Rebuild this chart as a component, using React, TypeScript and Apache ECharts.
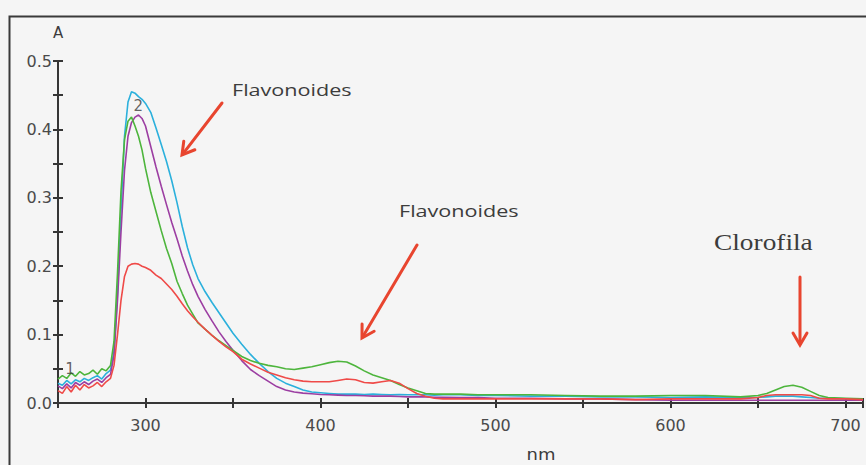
import React, { useEffect, useRef } from "react";
import * as echarts from "echarts";

// Wavelength grid (nm), denser where the spectra change quickly
const wavelengths = [
  250, 252.5, 255, 257.5, 260, 262.5, 265, 267.5, 270, 272.5, 275, 277.5, 280,
  282, 284, 286, 288, 290, 292, 294, 296, 298, 300,
  303, 306, 309, 312, 315, 318, 321, 324, 327, 330,
  334, 338, 342, 346, 350,
  355, 360, 365, 370, 375, 380, 385, 390, 395, 400, 405, 410,
  415, 420, 425, 430, 435, 440, 445, 450, 455, 460, 465, 470,
  480, 490, 500,
  520, 540, 560, 580, 600, 620, 640,
  650, 655, 660, 665, 670, 675, 680, 685, 690,
  700, 710,
];

// Absorbance of each extract
const cyanSpectrum = [
  0.029, 0.026, 0.033, 0.028, 0.034, 0.031, 0.036, 0.033, 0.037, 0.04, 0.035, 0.043, 0.048,
  0.075, 0.16, 0.28, 0.39, 0.44, 0.455, 0.453, 0.448, 0.444, 0.438,
  0.425, 0.402, 0.378, 0.353, 0.325, 0.293, 0.258, 0.227, 0.202, 0.182,
  0.163, 0.147, 0.132, 0.117, 0.102,
  0.086, 0.071, 0.058, 0.046, 0.036, 0.029, 0.024, 0.019, 0.016, 0.015, 0.014, 0.013,
  0.013, 0.013, 0.0125, 0.013, 0.0125, 0.012, 0.0125, 0.012, 0.012, 0.012, 0.0115, 0.012,
  0.012, 0.011, 0.011,
  0.01, 0.01, 0.009, 0.009, 0.008, 0.009, 0.008,
  0.008, 0.009, 0.01, 0.01, 0.01, 0.009, 0.008, 0.007, 0.007,
  0.006, 0.006,
];

const purpleSpectrum = [
  0.025, 0.021, 0.028, 0.022, 0.03, 0.026, 0.031, 0.027, 0.032, 0.035, 0.03, 0.037, 0.042,
  0.07, 0.15, 0.25, 0.34, 0.39, 0.41, 0.418, 0.421, 0.416, 0.405,
  0.375, 0.345, 0.317, 0.29, 0.264, 0.24, 0.215, 0.193, 0.173, 0.156,
  0.137, 0.12, 0.104, 0.09, 0.077,
  0.062, 0.049, 0.04, 0.032, 0.024, 0.019, 0.016, 0.0145, 0.0135, 0.0125, 0.012, 0.0115,
  0.011, 0.011, 0.0105, 0.01, 0.01, 0.01, 0.0095, 0.009, 0.009, 0.009, 0.0085, 0.0085,
  0.008, 0.008, 0.007,
  0.007, 0.006, 0.006, 0.005, 0.004, 0.004, 0.004,
  0.004, 0.004, 0.004, 0.004, 0.004, 0.004, 0.004, 0.004, 0.004,
  0.004, 0.004,
];

const greenSpectrum = [
  0.035, 0.04, 0.036, 0.044, 0.039, 0.046, 0.041, 0.043, 0.048, 0.042, 0.05, 0.047, 0.055,
  0.09, 0.19, 0.31, 0.385, 0.412, 0.418, 0.405, 0.39, 0.37, 0.343,
  0.308, 0.28, 0.252, 0.226, 0.204, 0.178, 0.16, 0.143, 0.13, 0.117,
  0.108, 0.099, 0.091, 0.084, 0.077,
  0.068, 0.062, 0.058, 0.055, 0.053, 0.05, 0.049, 0.051, 0.053, 0.056, 0.059, 0.061,
  0.06, 0.054, 0.047, 0.041, 0.037, 0.033, 0.027, 0.022, 0.018, 0.014, 0.013, 0.013,
  0.013, 0.012, 0.012,
  0.012, 0.011, 0.01, 0.01, 0.011, 0.011, 0.009,
  0.011, 0.014, 0.019, 0.024, 0.026, 0.023, 0.017, 0.011, 0.008,
  0.007, 0.006,
];

const redSpectrum = [
  0.018, 0.014, 0.024, 0.016, 0.026, 0.019, 0.027, 0.022, 0.025, 0.03, 0.024, 0.031, 0.036,
  0.055, 0.1, 0.15, 0.185, 0.2, 0.203, 0.204, 0.203, 0.2, 0.198,
  0.194, 0.187, 0.182, 0.174, 0.166, 0.156, 0.145, 0.135, 0.126, 0.118,
  0.108, 0.099, 0.09, 0.082, 0.075,
  0.064, 0.057, 0.051, 0.045, 0.041, 0.037, 0.034, 0.032, 0.031, 0.031, 0.031, 0.033,
  0.035, 0.034, 0.03, 0.029, 0.031, 0.033, 0.029, 0.021, 0.014, 0.01, 0.007, 0.006,
  0.006, 0.006, 0.006,
  0.006, 0.006, 0.006, 0.005, 0.006, 0.006, 0.006,
  0.008, 0.011, 0.012, 0.012, 0.012, 0.012, 0.011, 0.007, 0.006,
  0.006, 0.005,
];

// Curve numbers written next to the traces: [nm, A, tag]
const curveTags: [number, number, string][] = [
  [295.8, 0.434, "2"],
  [256.8, 0.049, "1"],
];

const spectra = [
  { name: "3", color: "#2bb0dc", values: cyanSpectrum },
  { name: "2", color: "#9c3ea2", values: purpleSpectrum },
  { name: "4", color: "#4db53c", values: greenSpectrum },
  { name: "1", color: "#ef4a48", values: redSpectrum },
];

const AXIS = "#363636";
const ARROW = "#e8452f";
const SANS = "DejaVu Sans";

function arrow(x1: number, y1: number, x2: number, y2: number) {
  const dx = x2 - x1;
  const dy = y2 - y1;
  const len = Math.hypot(dx, dy);
  const ux = dx / len;
  const uy = dy / len;
  const head = 12;
  const half = 7;
  const bx = x2 - ux * head;
  const by = y2 - uy * head;
  const nx = -uy;
  const ny = ux;
  return [
    {
      type: "line",
      shape: { x1, y1, x2: x2 - ux * 1.5, y2: y2 - uy * 1.5 },
      style: { stroke: ARROW, lineWidth: 3, lineCap: "round" },
    },
    {
      type: "polyline",
      shape: {
        points: [
          [bx + nx * half, by + ny * half],
          [x2, y2],
          [bx - nx * half, by - ny * half],
        ],
      },
      style: { stroke: ARROW, lineWidth: 3, fill: "none", lineJoin: "miter", lineCap: "round" },
    },
  ];
}

function label(text: string, x: number, y: number, font: string, scaleX: number, align = "left") {
  return {
    type: "text",
    x,
    y,
    scaleX,
    style: {
      text,
      x: 0,
      y: 0,
      font,
      fill: "#3c3c3c",
      textAlign: align,
      align,
      textVerticalAlign: "middle",
      verticalAlign: "middle",
    },
  };
}

export default function App() {
  const ref = useRef<HTMLDivElement>(null);

  useEffect(() => {
    if (!ref.current) return;
    const chart = echarts.init(ref.current, null, { renderer: "svg" });

    const xLabel = (v: number) => (Math.round(v) % 100 === 0 ? String(Math.round(v)) : "");
    const yLabel = (v: number) => {
      const r = Math.round(v * 100);
      return r % 10 === 0 ? (r / 100).toFixed(1) : "";
    };

    const tickStyle = { color: AXIS, width: 2 };

    const option = {
      animation: false,
      backgroundColor: "#f5f5f5",
      grid: { left: 58, right: 0, top: 61, bottom: 62 },
      xAxis: [
        {
          type: "value",
          min: 250,
          max: 710,
          interval: 50,
          position: "bottom",
          axisLine: { show: true, onZero: false, lineStyle: { color: AXIS, width: 2 } },
          axisTick: { show: true, length: 5, lineStyle: tickStyle },
          axisLabel: { formatter: xLabel, color: "#4a4a4a", fontSize: 16, fontFamily: SANS, margin: 14 },
          splitLine: { show: false },
        },
        {
          type: "value",
          min: 250,
          max: 710,
          interval: 50,
          position: "bottom",
          axisLine: { show: false, onZero: false },
          axisTick: { show: true, inside: true, length: 5, lineStyle: tickStyle },
          axisLabel: { show: false },
          splitLine: { show: false },
        },
      ],
      yAxis: [
        {
          type: "value",
          min: 0,
          max: 0.5,
          interval: 0.05,
          position: "left",
          axisLine: { show: true, onZero: false, lineStyle: { color: AXIS, width: 2 } },
          axisTick: { show: true, length: 5, lineStyle: tickStyle },
          axisLabel: { formatter: yLabel, color: "#4a4a4a", fontSize: 16, fontFamily: SANS, margin: 6 },
          splitLine: { show: false },
        },
        {
          type: "value",
          min: 0,
          max: 0.5,
          interval: 0.05,
          position: "left",
          axisLine: { show: false, onZero: false },
          axisTick: { show: true, inside: true, length: 5, lineStyle: tickStyle },
          axisLabel: { show: false },
          splitLine: { show: false },
        },
      ],
      series: [
        ...spectra.map((s) => ({
          type: "line",
          name: s.name,
          xAxisIndex: 0,
          yAxisIndex: 0,
          showSymbol: false,
          symbol: "none",
          smooth: false,
          lineStyle: { color: s.color, width: 1.6 },
          data: wavelengths.map((w, i) => [w, s.values[i]]),
        })),
        {
          type: "scatter",
          name: "tags",
          xAxisIndex: 0,
          yAxisIndex: 0,
          symbolSize: 1,
          itemStyle: { color: "rgba(0,0,0,0)" },
          z: 5,
          label: {
            show: true,
            position: "inside",
            formatter: (p: any) => p.value[2],
            color: "#3c3c3c",
            fontSize: 15,
            fontFamily: SANS,
          },
          data: curveTags,
        },
      ],
      graphic: [
        {
          type: "rect",
          shape: { x: 9.5, y: 16.5, width: 1000, height: 600 },
          style: { stroke: "#3a3a3a", lineWidth: 2, fill: "none" },
          silent: true,
        },
        label("A", 58, 33, `15px "${SANS}"`, 1, "center"),
        label("nm", 541, 455, `15px "${SANS}"`, 1.2, "center"),
        label("Flavonoides", 232, 89, '17px "Open Sans"', 1.27),
        label("Flavonoides", 399, 210, '17px "Open Sans"', 1.27),
        label("Clorofila", 714, 242, '23px "Liberation Serif"', 1.19),
        ...arrow(222, 103, 182, 155),
        ...arrow(417, 245, 362, 338),
        ...arrow(800, 277, 800, 345),
      ],
    };

    chart.setOption(option as any);
    return () => chart.dispose();
  }, []);

  return (
    <div
      ref={ref}
      style={{ position: "fixed", left: 0, top: 0, width: 866, height: 465 }}
    />
  );
}
